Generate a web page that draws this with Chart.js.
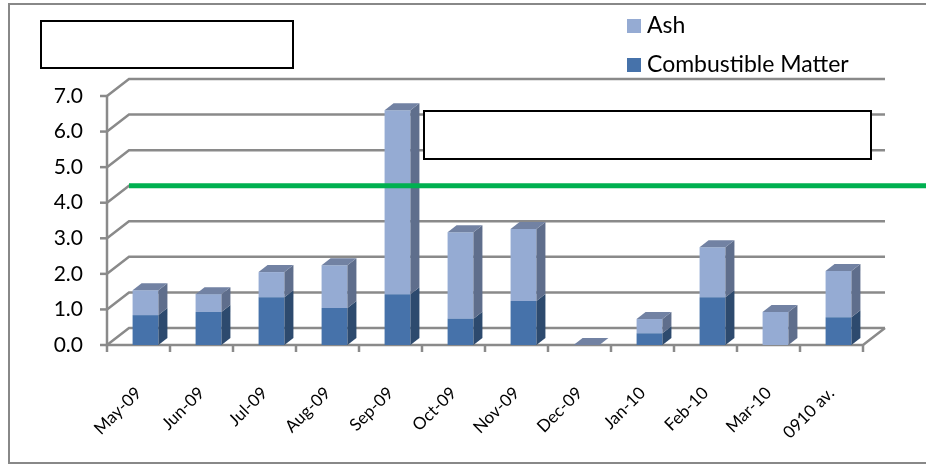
<!DOCTYPE html>
<html lang="en">
<head>
  <meta charset="UTF-8" />
  <title>Ash / Combustible Matter</title>
  <script src="https://cdn.jsdelivr.net/npm/chart.js"></script>
  <style>
    body { margin: 0; background: #fff; font-family: 'Lato', 'Open Sans', Arial, sans-serif; }
    .wrap { position: relative; width: 926px; height: 467px; overflow: hidden; }
    canvas { position: absolute; left: 0; top: 0; }
    .frame { position: absolute; left: 8px; top: 3px; width: 960px; height: 461px; border: 2px solid #888; box-sizing: border-box; }
    .box { position: absolute; border: 2px solid #000; background: #fff; box-sizing: border-box; }
    .legend { position: absolute; left: 627px; font-size: 23px; color: #000; line-height: 1; }
    .legend span.sw { display: inline-block; width: 14px; height: 14px; margin-right: 6px; vertical-align: 0px; }
  </style>
</head>
<body>
<div class="wrap">
  <div class="frame"></div>
  <canvas id="chart" width="926" height="467"></canvas>
  <div class="box" style="left:40px; top:20px; width:254px; height:49px;"></div>
  <div class="box" style="left:423px; top:110px; width:449px; height:50px;"></div>
  <div class="legend" style="top:13px;"><span class="sw" style="background:#95abd3"></span>Ash</div>
  <div class="legend" style="top:52px;"><span class="sw" style="background:#4672aa"></span>Combustible Matter</div>
</div>

<script>
  // dados
  const categories = ['May-09', 'Jun-09', 'Jul-09', 'Aug-09', 'Sep-09', 'Oct-09', 'Nov-09', 'Dec-09', 'Jan-10', 'Feb-10', 'Mar-10', '0910 av.'];
  const combustible = [0.84, 0.93, 1.34, 1.04, 1.43, 0.74, 1.24, 0, 0.33, 1.34, 0, 0.78];
  const ash = [0.70, 0.50, 0.71, 1.20, 5.17, 2.43, 2.02, 0, 0.40, 1.41, 0.93, 1.30];
  const yTicks = [0, 1, 2, 3, 4, 5, 6, 7];
  const target = 4.0;

  // deslocamento 3D da parede do fundo e profundidade das barras
  const WALL = { dx: 22, dy: -17 };
  const BAR = { dx: 9, dy: -7, shift: 7 };
  const GRID = '#8a8a8a';

  const sideColors = ['#2d4a6e', '#5f6e8c'];
  const topColor = '#7282a3';

  const wall3d = {
    id: 'wall3d',
    beforeDatasetsDraw(chart) {
      const { ctx, chartArea: a, scales: { y } } = chart;
      ctx.save();
      ctx.strokeStyle = GRID;
      ctx.lineWidth = 2.5;
      yTicks.forEach(v => {
        const py = y.getPixelForValue(v);
        ctx.beginPath();
        ctx.moveTo(a.left, py);
        ctx.lineTo(a.left + WALL.dx, py + WALL.dy);
        ctx.lineTo(a.right + WALL.dx, py + WALL.dy);
        ctx.stroke();
        // marca do eixo
        ctx.beginPath();
        ctx.moveTo(a.left - 7, py);
        ctx.lineTo(a.left, py);
        ctx.stroke();
      });
      // eixo vertical da frente + chão
      ctx.beginPath();
      ctx.moveTo(a.left, y.getPixelForValue(yTicks[yTicks.length - 1]));
      ctx.lineTo(a.left, a.bottom);
      ctx.lineTo(a.right, a.bottom);
      ctx.lineTo(a.right + WALL.dx, a.bottom + WALL.dy);
      ctx.stroke();
      // marcas das categorias
      const step = (a.right - a.left) / categories.length;
      for (let i = 0; i <= categories.length; i++) {
        const px = a.left + i * step;
        ctx.beginPath();
        ctx.moveTo(px, a.bottom);
        ctx.lineTo(px, a.bottom + 7);
        ctx.stroke();
      }
      ctx.restore();
      ctx.save();
      ctx.translate(BAR.shift, 0);
    },
    afterDatasetsDraw(chart) {
      const { ctx, chartArea: a, scales: { y } } = chart;
      const metas = chart.data.datasets.map((d, i) => chart.getDatasetMeta(i));
      categories.forEach((c, i) => {
        let topEl = null;
        metas.forEach((meta, di) => {
          const el = meta.data[i];
          const p = el.getProps(['x', 'y', 'base', 'width'], true);
          const r = p.x + p.width / 2;
          if (Math.abs(p.base - p.y) > 0.5) {
            ctx.fillStyle = sideColors[di];
            ctx.beginPath();
            ctx.moveTo(r, p.y);
            ctx.lineTo(r + BAR.dx, p.y + BAR.dy);
            ctx.lineTo(r + BAR.dx, p.base + BAR.dy);
            ctx.lineTo(r, p.base);
            ctx.closePath();
            ctx.fill();
            topEl = p;
          } else if (!topEl) {
            topEl = p;
          }
        });
        if (topEl) {
          const l = topEl.x - topEl.width / 2, r = topEl.x + topEl.width / 2;
          ctx.fillStyle = topColor;
          ctx.beginPath();
          ctx.moveTo(l, topEl.y);
          ctx.lineTo(l + BAR.dx, topEl.y + BAR.dy);
          ctx.lineTo(r + BAR.dx, topEl.y + BAR.dy);
          ctx.lineTo(r, topEl.y);
          ctx.closePath();
          ctx.fill();
        }
      });
      ctx.restore();

      // linha verde de referência
      const py = y.getPixelForValue(target) + WALL.dy;
      ctx.save();
      ctx.strokeStyle = '#00b050';
      ctx.lineWidth = 5;
      ctx.beginPath();
      ctx.moveTo(a.left + WALL.dx, py);
      ctx.lineTo(chart.width, py);
      ctx.stroke();
      ctx.restore();
    }
  };

  new Chart(document.getElementById('chart'), {
    type: 'bar',
    data: {
      labels: categories,
      datasets: [
        { label: 'Combustible Matter', data: combustible, backgroundColor: '#4672aa', barPercentage: 0.41, categoryPercentage: 1 },
        { label: 'Ash', data: ash, backgroundColor: '#95abd3', barPercentage: 0.41, categoryPercentage: 1 }
      ]
    },
    options: {
      responsive: false,
      animation: false,
      devicePixelRatio: 1,
      layout: { padding: { left: 0, right: 63, top: 96, bottom: 0 } },
      plugins: { legend: { display: false }, tooltip: { enabled: false } },
      scales: {
        x: {
          stacked: true,
          grid: { display: false },
          border: { display: false },
          ticks: {
            color: '#000',
            font: { family: 'Lato', size: 17 },
            minRotation: 45,
            maxRotation: 45,
            padding: 30,
            autoSkip: false
          },
          afterFit: s => { s.height = 122; }
        },
        y: {
          stacked: true,
          min: 0,
          max: 7,
          grid: { display: false },
          border: { display: false },
          ticks: {
            stepSize: 1,
            color: '#000',
            font: { family: 'Lato', size: 21 },
            padding: 16,
            callback: v => v.toFixed(1)
          },
          afterFit: s => { s.width = 107; }
        }
      }
    },
    plugins: [wall3d]
  });
</script>
</body>
</html>
